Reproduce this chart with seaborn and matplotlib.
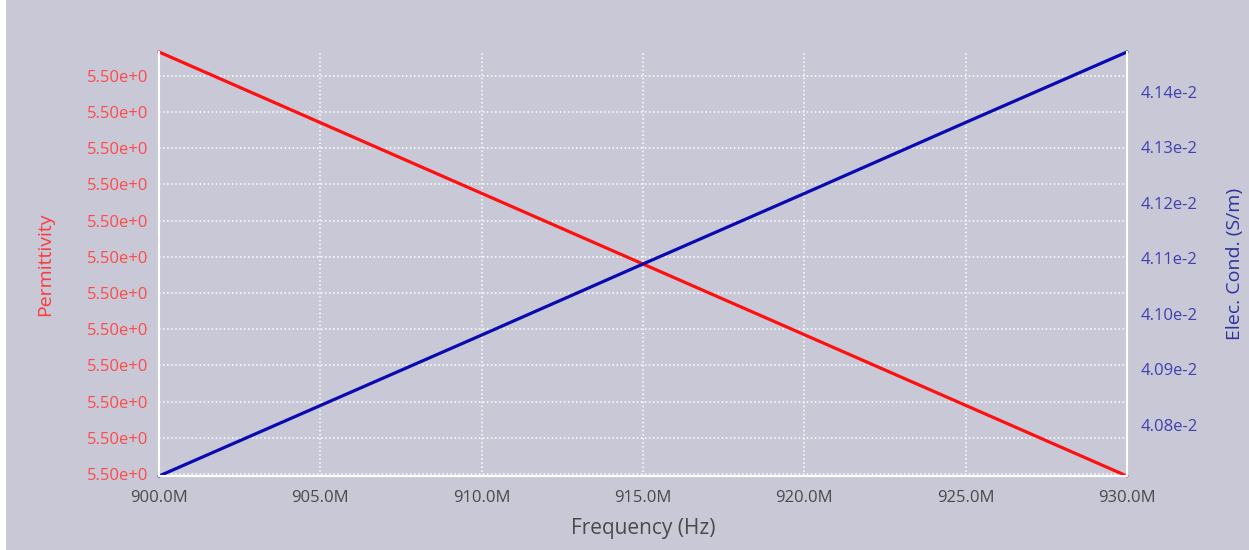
import matplotlib.pyplot as plt
import matplotlib.ticker as mticker
import pandas as pd
import seaborn as sns
from matplotlib.patches import Rectangle

# frequency sweep (Hz) and measured values
frequency = [900.0e6, 905.0e6, 910.0e6, 915.0e6, 920.0e6, 925.0e6, 930.0e6]
permittivity = [5.50073, 5.50034, 5.49995, 5.49956, 5.49917, 5.49878, 5.49839]
conductivity = [0.040708, 0.040835, 0.040962, 0.041090, 0.041217, 0.041345, 0.041472]

BG = '#c8c8d7'
RED = '#ff1010'
BLUE = '#0a0ab0'

sns.set_theme(style='darkgrid', rc={
    'axes.facecolor': BG,
    'figure.facecolor': BG,
    'grid.color': 'white',
    'grid.linestyle': ':',
    'grid.linewidth': 1.1,
})
plt.rcParams['font.family'] = ['Open Sans', 'DejaVu Sans']

df = pd.DataFrame({'freq': frequency, 'perm': permittivity, 'cond': conductivity})

fig = plt.figure(figsize=(12.49, 5.5), dpi=100)
ax = fig.add_axes([0.1273, 0.1345, 0.775, 0.771])
ax2 = ax.twinx()

sns.lineplot(data=df, x='freq', y='perm', ax=ax, color=RED, linewidth=2.3)
sns.lineplot(data=df, x='freq', y='cond', ax=ax2, color=BLUE, linewidth=2.3)

ax.set_xlim(min(frequency), max(frequency))
ax.set_ylim(min(permittivity), max(permittivity))
ax2.set_ylim(min(conductivity), max(conductivity))

ax.xaxis.set_major_locator(mticker.MultipleLocator(5e6))
ax.xaxis.set_major_formatter(mticker.FuncFormatter(lambda v, p: '%.1fM' % (v / 1e6)))
ax.yaxis.set_major_locator(mticker.MultipleLocator(0.0002))
ax.yaxis.set_major_formatter(mticker.FuncFormatter(lambda v, p: '%.2fe+0' % v))
ax2.yaxis.set_major_locator(mticker.MultipleLocator(0.0001))
ax2.yaxis.set_major_formatter(mticker.FuncFormatter(lambda v, p: '%.2fe-2' % (v * 100)))

ax.grid(True, axis='both')
ax2.grid(False)

ax.tick_params(axis='x', colors='#4a4a4a', labelsize=12, length=0, pad=10)
ax.tick_params(axis='y', colors='#ff4a4a', labelsize=12, length=0, pad=8)
ax2.tick_params(axis='y', colors='#4040b0', labelsize=12, length=0, pad=10)

ax.set_xlabel('Frequency (Hz)', color='#4a4a4a', fontsize=15, labelpad=9)
ax.set_ylabel('Permittivity', color='#ff3a3a', fontsize=14, labelpad=23)
ax2.set_ylabel('Elec. Cond. (S/m)', color='#3030a0', fontsize=14, labelpad=20)

for a in (ax, ax2):
    for side in ('left', 'bottom', 'right'):
        a.spines[side].set_visible(True)
        a.spines[side].set_color('white')
        a.spines[side].set_linewidth(1.5)
    a.spines['top'].set_visible(False)
    for line in a.lines:
        line.set_clip_on(False)

# thin white strip on the left border of the image
fig.patches.append(Rectangle((0, 0), 6 / 1249, 1, transform=fig.transFigure,
                             facecolor='white', edgecolor='none', zorder=-1))

fig.savefig('out.png', dpi=100, facecolor=BG)
